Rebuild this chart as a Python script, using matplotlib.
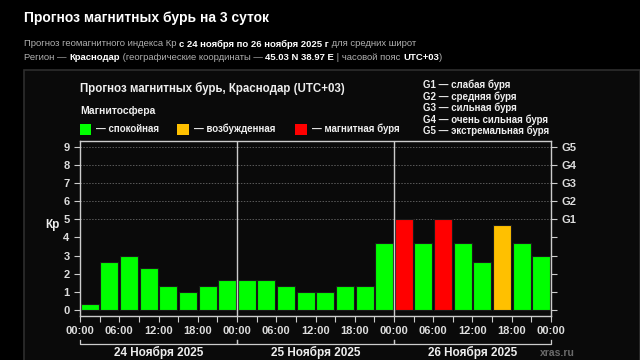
import matplotlib
matplotlib.use("Agg")
import matplotlib.pyplot as plt
import matplotlib.patches as mpatches
import matplotlib.transforms as mtransforms

# ---- data ----
hours = [1.5 + 3 * i for i in range(24)]
kp_values = [0.33, 2.67, 3.0, 2.33, 1.33, 1.0, 1.33, 1.67,
             1.67, 1.67, 1.33, 1.0, 1.0, 1.33, 1.33, 3.67,
             5.0, 3.67, 5.0, 3.67, 2.67, 4.67, 3.67, 3.0]
levels = ["q", "q", "q", "q", "q", "q", "q", "q",
          "q", "q", "q", "q", "q", "q", "q", "q",
          "s", "q", "s", "q", "q", "e", "q", "q"]
level_colors = {"q": "#00ff00", "e": "#ffc000", "s": "#ff0000"}
xtick_labels = ["00:00", "06:00", "12:00", "18:00"] * 3 + ["00:00"]
day_labels = ["24 Ноября 2025", "25 Ноября 2025", "26 Ноября 2025"]
g_labels = ["G1", "G2", "G3", "G4", "G5"]
g_desc = ["G1 — слабая буря", "G2 — средняя буря", "G3 — сильная буря",
          "G4 — очень сильная буря", "G5 — экстремальная буря"]
legend_items = [("#00ff00", "— спокойная"), ("#ffc000", "— возбужденная"),
                ("#ff0000", "— магнитная буря")]

plt.rcParams['font.family'] = ['Liberation Sans', 'DejaVu Sans']

W, H = 640, 360
fig = plt.figure(figsize=(6.4, 3.6), dpi=100, facecolor="black")
renderer = fig.canvas.get_renderer()


def fx(px):
    return px / W


def fy(py):
    return 1 - py / H


def runs(x, y, parts, size):
    """Draw sequential text runs starting at pixel (x, y-center)."""
    for txt, weight, color in parts:
        t = fig.text(fx(x), fy(y), txt, fontsize=size, fontweight=weight,
                     color=color, ha="left", va="center")
        bb = t.get_window_extent(renderer)
        x += bb.width


# outer box
box = mpatches.Rectangle((fx(24), fy(362)), fx(615.5), (362 - 70) / H,
                         transform=fig.transFigure, facecolor="#0a0a0a",
                         edgecolor="#2e2e2e", linewidth=1.2, zorder=-10)
fig.patches.append(box)

# header
fig.text(fx(24), fy(18), "Прогноз магнитных бурь на 3 суток", fontsize=10,
         fontweight="bold", color="white", ha="left", va="center")
gray = "#b0b0b0"
runs(24, 44, [("Прогноз геомагнитного индекса Кр ", "normal", gray),
              ("с 24 ноября по 26 ноября 2025 г", "bold", "white"),
              (" для средних широт", "normal", gray)], 6.8)
runs(24, 57, [("Регион — ", "normal", gray), ("Краснодар", "bold", "white"),
              (" (географические координаты — ", "normal", gray),
              ("45.03 N 38.97 E", "bold", "white"),
              (" | часовой пояс ", "normal", gray), ("UTC+03", "bold", "white"),
              (")", "normal", gray)], 6.8)

# chart title & legend
fig.text(fx(80), fy(88), "Прогноз магнитных бурь, Краснодар (UTC+03)",
         fontsize=8.3, fontweight="bold", color="#eeeeee", ha="left", va="center")
fig.text(fx(80), fy(111), "Магнитосфера", fontsize=7.5, fontweight="bold",
         color="#eeeeee", ha="left", va="center")
for (c, lab), x0 in zip(legend_items, [79.5, 177, 295]):
    sq = mpatches.Rectangle((fx(x0), fy(134.5)), 11.5 / W, 11 / H,
                            transform=fig.transFigure, facecolor=c,
                            edgecolor="none", zorder=5)
    fig.patches.append(sq)
    fig.text(fx(x0 + 17), fy(129), lab, fontsize=7, fontweight="bold",
             color="#eeeeee", ha="left", va="center")
for i, d in enumerate(g_desc):
    fig.text(fx(423), fy(85 + 11.5 * i), d, fontsize=7, fontweight="bold",
             color="#eeeeee", ha="left", va="center")

# axes
ax = fig.add_axes([fx(80), fy(315.7), (551 - 80) / W, (315.7 - 140.7) / H])
ax.set_facecolor("#0a0a0a")
ax.set_xlim(0, 72)
ax.set_ylim(-0.31, 9.33)

for y in range(5, 10):
    ax.axhline(y, color="#5a5a5a", linestyle=(0, (1.5, 1.5)), linewidth=0.7,
               zorder=1)

ax.bar(hours, kp_values, width=2.75,
       color=[level_colors[l] for l in levels],
       edgecolor="#1a1a1a", linewidth=0.8, zorder=2)

for xd in (24, 48):
    ax.axvline(xd, color="#cccccc", linewidth=1.0, zorder=3)

for s in ax.spines.values():
    s.set_color("#cccccc")
    s.set_linewidth(1.0)

ax.set_yticks(range(10))
ax.set_yticklabels([str(i) for i in range(10)])
ax.set_xticks(range(0, 73, 6))
ax.set_xticklabels(xtick_labels)
ax.set_xticks(range(3, 72, 6), minor=True)
ax.tick_params(axis="both", which="both", colors="#cccccc", labelcolor="#dddddd",
               labelsize=8, length=4, width=0.8)
ax.tick_params(axis="x", which="minor", length=4)
for lab in ax.get_xticklabels() + ax.get_yticklabels():
    lab.set_fontweight("bold")
ax.set_ylabel("Кр", fontsize=8.5, fontweight="bold", color="#eeeeee",
              rotation=0, labelpad=10, va="center")
ax.yaxis.set_label_coords(-0.058, (4.7 + 0.31) / 9.64)

ax2 = ax.twinx()
ax2.set_ylim(ax.get_ylim())
ax2.set_yticks(range(10))
ax2.set_yticklabels([""] * 5 + g_labels)
ax2.tick_params(axis="y", colors="#cccccc", labelcolor="#dddddd", labelsize=8,
                length=4, width=0.8)
for lab in ax2.get_yticklabels():
    lab.set_fontweight("bold")
for s in ax2.spines.values():
    s.set_visible(False)

# day brackets below axis
trans = mtransforms.blended_transform_factory(ax.transData, fig.transFigure)
for d in range(3):
    x0, x1 = 24 * d, 24 * (d + 1)
    ax.plot([x0, x0, x1, x1], [fy(340), fy(344), fy(344), fy(340)],
            transform=trans, color="#cccccc", linewidth=0.9, clip_on=False)
    ax.text((x0 + x1) / 2, fy(352.5), day_labels[d], transform=trans,
            fontsize=8.5, fontweight="bold", color="#eeeeee", ha="center",
            va="center")
fig.text(fx(540), fy(352.5), "xras.ru", fontsize=7.5, fontweight="bold",
         color="#6a6a6a", ha="left", va="center")

fig.savefig("out.png", dpi=100, facecolor="black")
